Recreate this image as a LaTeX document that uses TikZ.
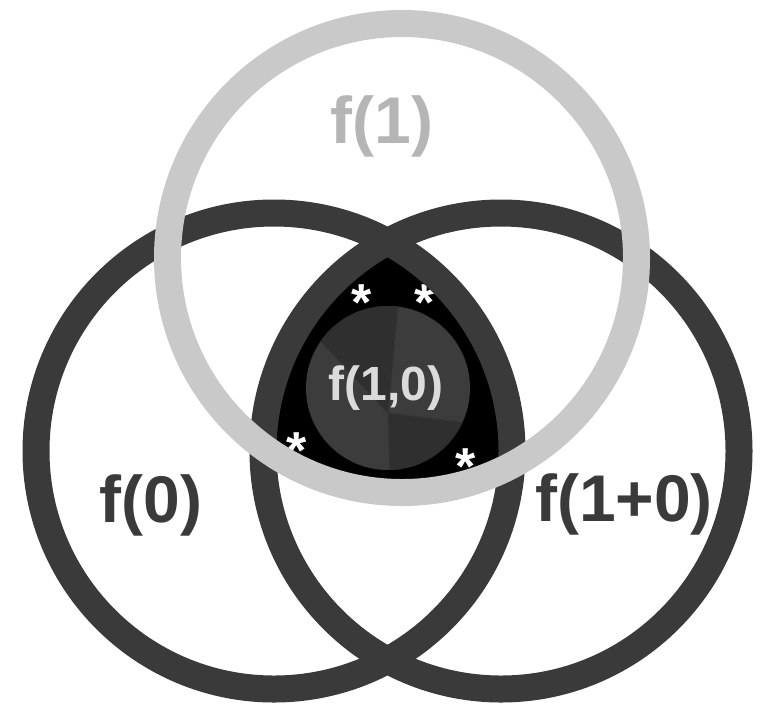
\documentclass[tikz,border=0pt]{standalone}
\usepackage{fontspec}
\setmainfont{Liberation Sans}
\usetikzlibrary{positioning}
\definecolor{ringdark}{HTML}{3A3A3A}
\definecolor{ringlight}{HTML}{C9C9C9}
\definecolor{discbase}{HTML}{3C3C3C}
\definecolor{discdark}{HTML}{2F2F2F}

\begin{document}
\begin{tikzpicture}[
    x=1pt, y=-1pt,
    ring/.style={line width=27pt},
    setlabel/.style={font=\fontsize{66}{70}\selectfont\bfseries, inner sep=0pt, anchor=base},
    star/.style={font=\fontsize{52}{52}\selectfont\bfseries, text=white, inner sep=0pt, anchor=north}
]
\fill[white] (0,0) rectangle (760,705);
\useasboundingbox (0,0) rectangle (760,705);
\coordinate (czero) at (274,451);
\coordinate (conezero) at (501,451);
\coordinate (cone) at (402,258);
\coordinate (disc) at (388,388);
\coordinate (hub) at (388,413);
% common part of the three sets
\begin{scope}
  \clip (czero) circle (238pt);
  \clip (conezero) circle (238pt);
  \fill[black] (cone) circle (234pt);
\end{scope}
% inner disc with its sectors
\fill[discbase] (disc) circle (82pt);
\begin{scope}
  \clip (disc) circle (82pt);
  \fill[discdark] (hub) -- (403,252) -- (250,252) -- (281,299) -- cycle;
  \fill[discdark] (hub) -- (500,427) -- (500,530) -- (392,530) -- cycle;
  \draw[black!80, line width=0.8pt] (hub) -- (403,252);
  \draw[black!80, line width=0.8pt] (hub) -- (281,299);
  \draw[black!80, line width=0.8pt] (hub) -- (500,427);
  \draw[black!80, line width=0.8pt] (hub) -- (392,530);
\end{scope}
\node[star] (s1) at (362,285) {*};
\node[star] (s2) at (425,285) {*};
\node[star] (s3) at (297,433) {*};
\node[star] (s4) at (466,449) {*};
% the three rings
\draw[ring, ringdark] (czero) circle (238pt);
\draw[ring, ringdark] (conezero) circle (238pt);
\draw[ring, ringlight] (cone) circle (234.5pt);
% labels
\node[setlabel, text=ringdark] (fzero) at (151,522) {f(0)};
\node[setlabel, text=ringdark] (fonezero) at (624,521) {f(1+0)};
\node[setlabel, text=ringlight!90!black] (fone) at (382,143) {f(1)};
\node[setlabel, text=white!86!black, font=\fontsize{48}{52}\selectfont\bfseries] (fpair) at (386,400) {f(1,0)};
\end{tikzpicture}
\end{document}
